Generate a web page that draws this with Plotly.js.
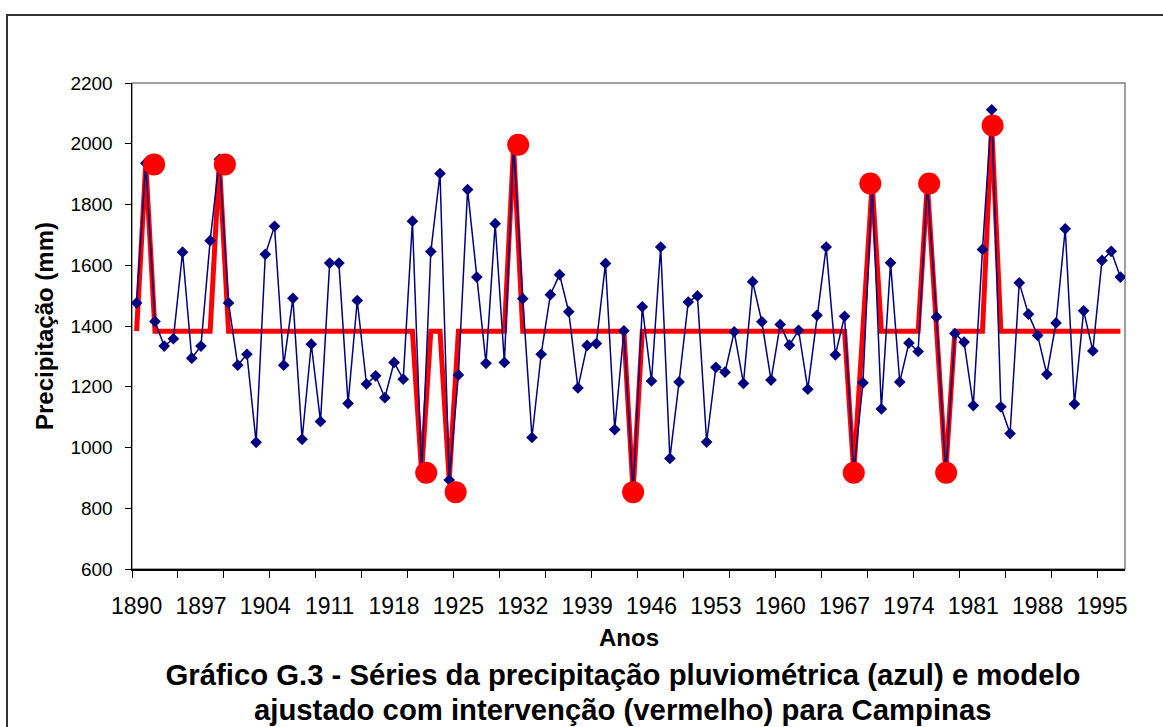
<!DOCTYPE html>
<html>
<head>
<meta charset="utf-8">
<script src="https://cdn.plot.ly/plotly-3.0.1.min.js"></script>
<style>
  html, body { margin: 0; padding: 0; width: 1163px; height: 727px; overflow: hidden; background: #fff; }
  #chart { position: absolute; left: 0; top: 0; width: 1163px; height: 727px; }
  #frame { position: absolute; left: 6px; top: 14px; width: 1300px; height: 900px;
           border-left: 2px solid #333; border-top: 2px solid #333; pointer-events: none; z-index: 10; }
</style>
</head>
<body>
<div id="chart"></div>
<div id="frame"></div>
<script>
// Years (categories)
const years = [1890,1891,1892,1893,1894,1895,1896,1897,1898,1899,
  1900,1901,1902,1903,1904,1905,1906,1907,1908,1909,
  1910,1911,1912,1913,1914,1915,1916,1917,1918,1919,
  1920,1921,1922,1923,1924,1925,1926,1927,1928,1929,
  1930,1931,1932,1933,1934,1935,1936,1937,1938,1939,
  1940,1941,1942,1943,1944,1945,1946,1947,1948,1949,
  1950,1951,1952,1953,1954,1955,1956,1957,1958,1959,
  1960,1961,1962,1963,1964,1965,1966,1967,1968,1969,
  1970,1971,1972,1973,1974,1975,1976,1977,1978,1979,
  1980,1981,1982,1983,1984,1985,1986,1987,1988,1989,
  1990,1991,1992,1993,1994,1995,1996,1997];

// Observed precipitation (blue)
const precip = [1476,1936,1415,1334,1358,1643,1294,1334,1681,1949,
  1476,1271,1307,1017,1636,1728,1271,1491,1027,1340,
  1086,1607,1607,1145,1484,1209,1236,1164,1280,1225,
  1745,917,1645,1902,893,1239,1849,1561,1277,1737,
  1280,1997,1490,1033,1307,1503,1569,1447,1196,1336,
  1342,1606,1059,1384,853,1463,1219,1660,964,1216,
  1479,1499,1018,1264,1248,1381,1211,1546,1414,1222,
  1405,1337,1386,1192,1435,1660,1305,1432,917,1213,
  1869,1127,1608,1216,1344,1316,1869,1430,917,1375,
  1347,1138,1652,2112,1134,1046,1542,1439,1369,1241,
  1410,1720,1143,1450,1318,1616,1646,1561];

// Fitted model with intervention (red)
const model = [1383,1936,1383,1383,1383,1383,1383,1383,1383,1940,
  1383,1383,1383,1383,1383,1383,1383,1383,1383,1383,
  1383,1383,1383,1383,1383,1383,1383,1383,1383,1383,
  1383,917,1383,1383,893,1383,1383,1383,1383,1383,
  1383,1990,1383,1383,1383,1383,1383,1383,1383,1383,
  1383,1383,1383,1383,853,1383,1383,1383,1383,1383,
  1383,1383,1383,1383,1383,1383,1383,1383,1383,1383,
  1383,1383,1383,1383,1383,1383,1383,1383,917,1383,
  1869,1383,1383,1383,1383,1383,1869,1383,917,1383,
  1383,1383,1383,2060,1383,1383,1383,1383,1383,1383,
  1383,1383,1383,1383,1383,1383,1383,1383];

// Intervention points (red circles)
const interYears = [1891.9, 1899.6, 1921.5, 1924.7, 1931.5, 1944, 1968, 1969.8, 1976.2, 1978.05, 1983.1];
const interValues = [1932, 1932, 917, 853, 1997, 853, 917, 1869, 1869, 917, 2060];

// Tick labels
const xTickVals = [1890,1897,1904,1911,1918,1925,1932,1939,1946,1953,1960,1967,1974,1981,1988,1995];
const xTickText = ['1890','1897','1904','1911','1918','1925','1932','1939','1946','1953','1960','1967','1974','1981','1988','1995'];
const yTickVals = [600,800,1000,1200,1400,1600,1800,2000,2200];

const FONT = 'Arial, "Liberation Sans", sans-serif';

const traces = [
  {
    x: years, y: model, type: 'scatter', mode: 'lines',
    line: { color: '#FF0000', width: 5 },
    hoverinfo: 'skip', showlegend: false
  },
  {
    x: years, y: precip, type: 'scatter', mode: 'lines+markers',
    line: { color: '#000080', width: 1.5 },
    marker: { symbol: 'diamond', size: 9, color: '#000080' },
    showlegend: false
  },
  {
    x: interYears, y: interValues, type: 'scatter', mode: 'markers',
    marker: { symbol: 'circle', size: 22, color: '#FF0000' },
    showlegend: false
  }
];

const layout = {
  width: 1163, height: 727,
  margin: { l: 132, r: 38, t: 83, b: 158 },
  paper_bgcolor: '#ffffff', plot_bgcolor: '#ffffff',
  font: { family: FONT, color: '#000' },
  showlegend: false,
  title: {
    text: '<b>Gráfico G.3 - Séries da precipitação pluviométrica (azul) e modelo</b>',
    font: { family: FONT, size: 29.3, color: '#000' },
    x: (623 - 132) / 993, xref: 'paper', xanchor: 'center',
    y: (727 - 675) / 727, yref: 'container', yanchor: 'middle'
  },
  xaxis: {
    range: [1889.5, 1997.5],
    tickmode: 'array', tickvals: xTickVals, ticktext: xTickText,
    ticks: '', ticklabelstandoff: 16,
    tickfont: { family: FONT, size: 23, color: '#000' },
    showline: true, linecolor: '#000', linewidth: 1.5,
    showgrid: false, zeroline: false,
    minor: { tick0: 1889.5, dtick: 5, ticks: 'outside', ticklen: 7, tickcolor: '#000', tickwidth: 1, showgrid: false }
  },
  yaxis: {
    range: [600, 2200],
    tickmode: 'array', tickvals: yTickVals,
    ticks: 'outside', ticklen: 6, tickcolor: '#000', tickwidth: 1,
    ticklabelstandoff: 8,
    tickfont: { family: FONT, size: 19, color: '#000' },
    showline: true, linecolor: '#000', linewidth: 1.5,
    showgrid: false, zeroline: false,
    title: { text: '<b>Precipitação (mm)</b>', font: { family: FONT, size: 24, color: '#000' }, standoff: 10 }
  },
  shapes: [
    { type: 'rect', xref: 'paper', yref: 'paper', x0: 0, x1: 1, y0: 0, y1: 1,
      line: { color: '#808080', width: 1.5 }, layer: 'below' }
  ],
  annotations: [
    { text: '<b>Anos</b>', xref: 'paper', yref: 'paper', x: 0.5, y: (569 - 637) / 486,
      xanchor: 'center', yanchor: 'middle', showarrow: false,
      font: { family: FONT, size: 24, color: '#000' } },
    { text: '<b>ajustado com intervenção (vermelho) para Campinas</b>', xref: 'paper', yref: 'paper',
      x: (623 - 132) / 993, y: (569 - 709) / 486, xanchor: 'center', yanchor: 'middle', showarrow: false,
      font: { family: FONT, size: 29.3, color: '#000' } }
  ]
};

Plotly.newPlot('chart', traces, layout, { displayModeBar: false, staticPlot: true });
</script>
</body>
</html>
